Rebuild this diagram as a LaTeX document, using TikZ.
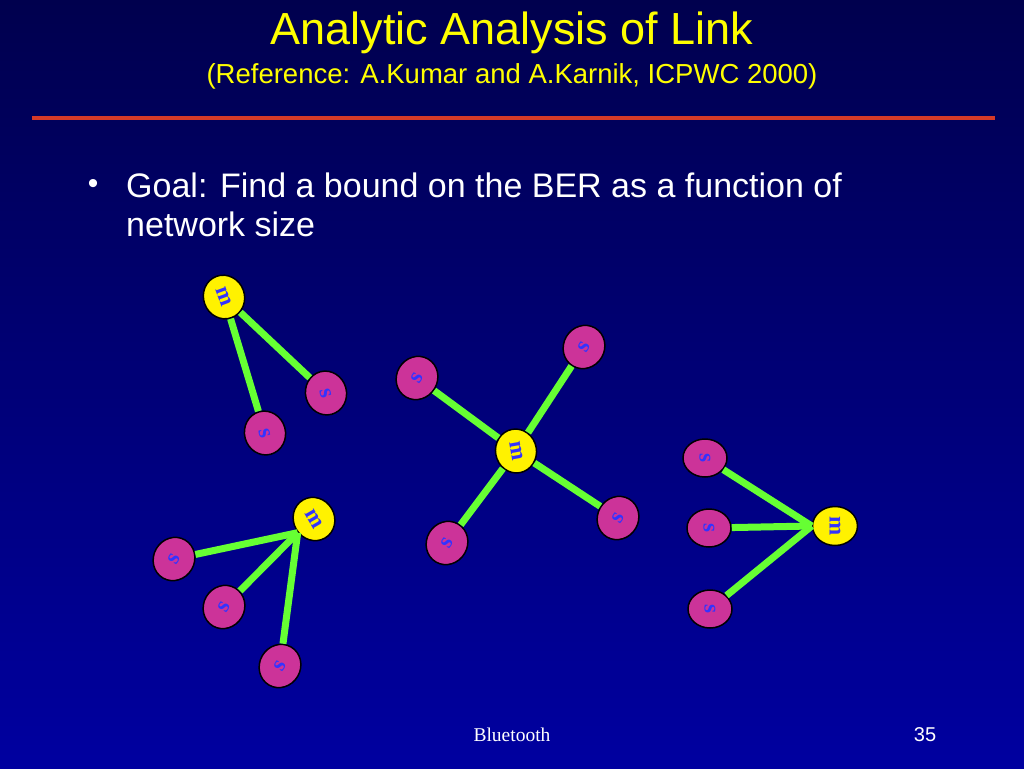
\documentclass[tikz,border=0pt]{standalone}
\usepackage{fontspec}
\setmainfont{Liberation Sans}
\newfontfamily\footfont{Liberation Serif}
\usetikzlibrary{shapes.geometric}
\definecolor{navytop}{RGB}{0,0,78}
\definecolor{navybot}{RGB}{0,0,160}
\definecolor{titleyel}{RGB}{255,255,0}
\definecolor{rulered}{RGB}{214,58,40}
\definecolor{linkgreen}{RGB}{102,255,51}
\definecolor{slavepink}{RGB}{204,51,153}
\definecolor{letterblue}{RGB}{51,51,255}

\begin{document}
\begin{tikzpicture}[x=1pt,y=-1pt,
    unit/.style={ellipse,draw=black,line width=1.5pt,text=letterblue,
        minimum width=44pt,minimum height=41pt,inner sep=0pt,font=\footfont\bfseries\fontsize{23}{23}\selectfont},
    master/.style={unit,fill=yellow},
    slave/.style={unit,fill=slavepink},
    upright/.style={minimum width=39pt,minimum height=45pt,rotate=-90},
    link/.style={linkgreen,line width=7pt}]

        \shade[top color=navytop,bottom color=navybot] (0,0) rectangle (1024,768);
        \useasboundingbox (0,0) rectangle (1024,768);

        \node[text=titleyel,font=\fontsize{45}{45}\selectfont] (title) at (512,33) {Analytic Analysis of Link};
        \node[text=titleyel,font=\fontsize{27.5}{27.5}\selectfont] (subtitle) at (512,76) {(Reference: A.Kumar and A.Karnik, ICPWC 2000)};
        \draw[rulered,line width=4pt] (32,118) -- (995,118);

        \node[white,font=\fontsize{30}{30}\selectfont] (bullet) at (93,186) {\textbullet};
        \node[white,anchor=west,align=left,inner sep=0pt,font=\fontsize{34}{39}\selectfont] (goal) at (126,205)
            {Goal: Find a bound on the BER as a function of\\network size};

        \node[master,rotate=-70] (m1) at (224,297) {m};
        \node[slave,rotate=-75] (s11) at (326,393) {s};
        \node[slave,rotate=-75] (s12) at (265,433) {s};
        \draw[link] (m1) -- (s11);
        \draw[link] (m1) -- (s12);

        \node[master,rotate=-80] (m2) at (516,451) {m};
        \node[slave,rotate=60] (s21) at (417,378) {s};
        \node[slave,rotate=60] (s22) at (584,347) {s};
        \node[slave,rotate=60] (s23) at (447,543) {s};
        \node[slave,rotate=60] (s24) at (618,518) {s};
        \draw[link] (m2) -- (s21);
        \draw[link] (m2) -- (s22);
        \draw[link] (m2) -- (s23);
        \draw[link] (m2) -- (s24);

        \node[master,rotate=-60] (m3) at (314,519) {m};
        \coordinate (hub3) at (m3.280);
        \node[slave,rotate=60] (s31) at (174,559) {s};
        \node[slave,rotate=60] (s32) at (224,607) {s};
        \node[slave,rotate=60] (s33) at (280,666) {s};
        \draw[link] (hub3) -- (s31);
        \draw[link] (hub3) -- (s32);
        \draw[link] (hub3) -- (s33);

        \node[master,upright] (m4) at (835,526) {m};
        \coordinate (hub4) at (m4.south);
        \node[slave,upright,minimum width=38pt,minimum height=44pt] (s41) at (705,458) {s};
        \node[slave,upright,minimum width=38pt,minimum height=44pt] (s42) at (709,528) {s};
        \node[slave,upright,minimum width=38pt,minimum height=44pt] (s43) at (710,609) {s};
        \draw[link] (hub4) -- (s41);
        \draw[link] (hub4) -- (s42);
        \draw[link] (hub4) -- (s43);

        \node[white,font=\footfont\fontsize{19.5}{19.5}\selectfont] (footer) at (512,735) {Bluetooth};
        \node[white,font=\fontsize{20}{20}\selectfont] (pageno) at (925,735) {35};
    \end{tikzpicture}
\end{document}
